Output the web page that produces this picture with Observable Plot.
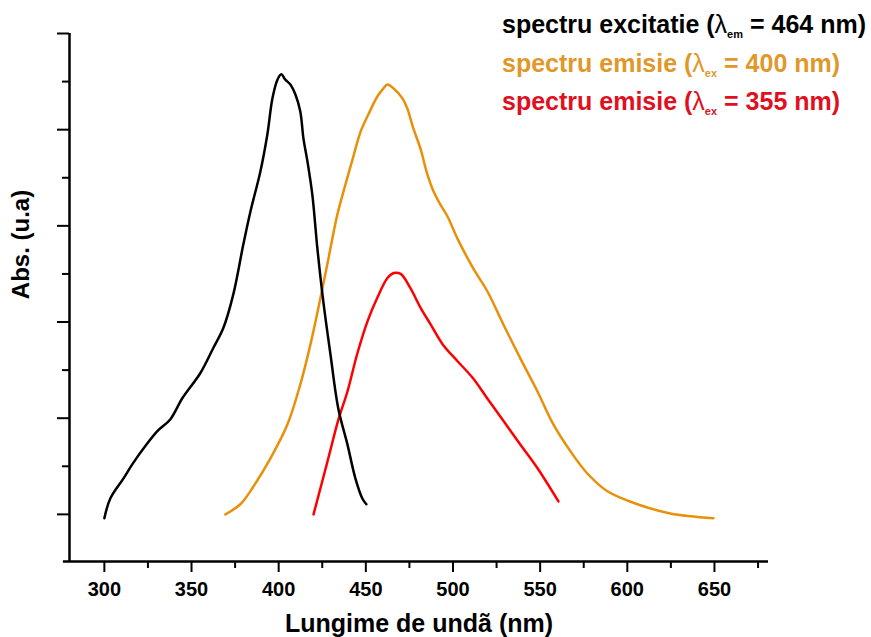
<!DOCTYPE html>
<html>
<head>
<meta charset="utf-8">
<script src="https://cdn.jsdelivr.net/npm/d3@7"></script>
<script src="https://cdn.jsdelivr.net/npm/@observablehq/plot@0.6"></script>
<style>
  html, body { margin: 0; padding: 0; background: #fff; }
  #wrap { position: relative; width: 871px; height: 637px; }
  .leg { position: absolute; left: 502px; font-family: "Liberation Sans", Arial, sans-serif; font-weight: bold; font-size: 25px; line-height: 24px; white-space: nowrap; }
  .leg .lam { font-weight: normal; }
  .leg sub { font-size: 11px; vertical-align: -5px; line-height: 0; }
</style>
</head>
<body>
<div id="wrap"></div>
<script>
// Excitation spectrum (lambda_em = 464 nm)
const excWl  = [300, 303.4, 311, 316, 323.5, 330.4, 337.9, 344.8, 355.1, 362.5, 368.3, 374, 379.7, 383.8, 389.5, 393.5, 396.4, 399.3, 401.5, 403.8, 406.7, 409.6, 412.4, 414.2, 416.5, 419.3, 422.2, 425.6, 429.7, 434.2, 439.4, 444, 448, 450.3];
const excVal = [-0.08, 0.33, 0.75, 1.04, 1.42, 1.73, 1.98, 2.42, 2.94, 3.46, 3.88, 4.58, 5.61, 6.30, 7.13, 7.90, 8.65, 9.04, 9.15, 9.04, 8.94, 8.73, 8.38, 7.82, 7.34, 6.65, 5.53, 4.43, 3.33, 2.20, 1.46, 0.75, 0.33, 0.21];

// Emission spectrum (lambda_ex = 400 nm)
const em400Wl  = [369.4, 378, 385.5, 395.2, 405, 412.4, 418.2, 423.9, 427.9, 433.7, 438.3, 442.9, 446.9, 451.5, 456.6, 460.1, 462.4, 465.8, 471, 473.8, 477.3, 481.3, 485.3, 488.8, 492.8, 496.8, 502.5, 511.7, 519.7, 528.9, 538.7, 548.4, 557.6, 567.4, 577.1, 588.6, 605.8, 624.7, 649.4];
const em400Val = [0, 0.21, 0.58, 1.16, 1.87, 2.70, 3.53, 4.49, 5.20, 6.24, 6.86, 7.45, 7.95, 8.32, 8.69, 8.86, 8.94, 8.86, 8.65, 8.44, 8.02, 7.61, 7.07, 6.72, 6.44, 6.20, 5.74, 5.11, 4.64, 3.95, 3.24, 2.56, 1.87, 1.31, 0.85, 0.48, 0.21, 0.02, -0.08];

// Emission spectrum (lambda_ex = 355 nm)
const em355Wl  = [420, 428, 434.5, 439.5, 445, 451, 456.5, 462.5, 466, 470, 475.5, 481.5, 487, 494, 502.5, 511.5, 519.5, 529, 538.5, 548.5, 560.5];
const em355Val = [0, 1.1, 2.0, 2.56, 3.33, 4.02, 4.5, 4.92, 5.02, 5.0, 4.71, 4.29, 3.96, 3.54, 3.19, 2.83, 2.42, 1.94, 1.46, 0.96, 0.27];

// Ticks
const xTicksMajor = [300, 350, 400, 450, 500, 550, 600, 650];
const xTicksMinor = [325, 375, 425, 475, 525, 575, 625, 675];
const yTicksMajor = [0, 2, 4, 6, 8, 10];
const yTicksMinor = [1, 3, 5, 7, 9];

const xLabel = "Lungime de undã (nm)";
const yLabel = "Abs. (u.a)";

const toRows = (wl, val) => wl.map((w, i) => ({wl: w, v: val[i]}));
const exc = toRows(excWl, excVal);
const em400 = toRows(em400Wl, em400Val);
const em355 = toRows(em355Wl, em355Val);

const font = "Liberation Sans, Arial, sans-serif";

const chart = Plot.plot({
  width: 871,
  height: 637,
  marginLeft: 69,
  marginRight: 103,
  marginTop: 33,
  marginBottom: 76,
  style: {fontFamily: font, background: "#fff", overflow: "visible"},
  x: {domain: [280, 681]},
  y: {domain: [-0.98, 10]},
  marks: [
    // axis lines
    Plot.ruleX([280], {stroke: "#000", strokeWidth: 2.5}),
    Plot.ruleY([-0.98], {x1: 276.5, x2: 681, stroke: "#000", strokeWidth: 2.5}),
    // x ticks
    Plot.axisX({ticks: xTicksMajor, tickSize: 11, tickPadding: 9, strokeWidth: 2, fontSize: 20, fontWeight: "bold", fill: "#000", label: null}),
    Plot.axisX({ticks: xTicksMinor, tickSize: 7, strokeWidth: 2, tickFormat: () => "", label: null}),
    // y ticks
    Plot.axisY({ticks: yTicksMajor, tickSize: 12, strokeWidth: 2, tickFormat: () => "", label: null}),
    Plot.axisY({ticks: yTicksMinor, tickSize: 7, strokeWidth: 2, tickFormat: () => "", label: null}),
    // axis titles
    Plot.text([xLabel], {frameAnchor: "bottom", dy: 62, lineAnchor: "middle", fontSize: 25, fontWeight: "bold", fill: "#000"}),
    Plot.text([yLabel], {frameAnchor: "left", dx: -48, dy: -53, rotate: -90, textAnchor: "middle", lineAnchor: "middle", fontSize: 24, fontWeight: "bold", fill: "#000"}),
    // spectra
    Plot.line(em400, {x: "wl", y: "v", stroke: "#e8900a", strokeWidth: 2.5, curve: "catmull-rom"}),
    Plot.line(em355, {x: "wl", y: "v", stroke: "#ff0000", strokeWidth: 2.5, curve: "catmull-rom"}),
    Plot.line(exc, {x: "wl", y: "v", stroke: "#000", strokeWidth: 2.5, curve: "catmull-rom"})
  ]
});

const wrap = document.getElementById("wrap");
wrap.appendChild(chart);

const legendItems = [
  {pre: "spectru excitatie (", sub: "em", post: "= 464 nm)", color: "#000000", top: 12},
  {pre: "spectru emisie (", sub: "ex", post: "= 400 nm)", color: "#e0982a", top: 51},
  {pre: "spectru emisie (", sub: "ex", post: "= 355 nm)", color: "#e0101e", top: 89}
];
for (const it of legendItems) {
  const d = document.createElement("div");
  d.className = "leg";
  d.style.top = it.top + "px";
  d.style.color = it.color;
  d.innerHTML = it.pre + '<span class="lam">λ</span><sub>' + it.sub + '</sub> ' + it.post;
  wrap.appendChild(d);
}
</script>
</body>
</html>
